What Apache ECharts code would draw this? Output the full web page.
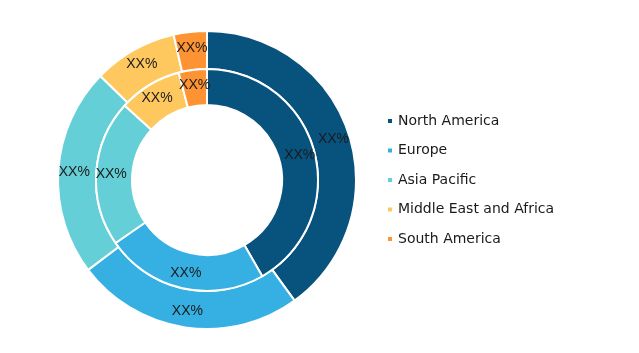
<!DOCTYPE html>
<html>
    <head>
        <meta charset="UTF-8" />
        <script src="https://cdn.jsdelivr.net/npm/echarts@6/dist/echarts.min.js"></script>
    </head>
    <body style="margin:0">
        <div id="main" style="width: 639px; height: 353px"></div>
        <script type="text/javascript">
            var regions = ['North America', 'Europe', 'Asia Pacific', 'Middle East and Africa', 'South America'];
            var colors = ['#08527e', '#36b0e2', '#65cfd8', '#fec85f', '#fd9332'];
            // 外圈 / 内圈 (读图估计的份额)
            var outerShare = [40.0, 24.7, 22.6, 9.1, 3.6];
            var innerShare = [41.7, 23.7, 21.3, 9.2, 4.1];
            var labelText = 'XX%';

            var myChart = echarts.init(document.getElementById('main'));

            function ring(name, values, radius) {
                return {
                    name: name,
                    type: 'pie',
                    center: [207, 180],
                    radius: radius,
                    startAngle: 90,
                    clockwise: true,
                    silent: true,
                    itemStyle: { borderColor: '#fff', borderWidth: 2 },
                    label: {
                        position: 'inside',
                        formatter: labelText,
                        color: '#1a1a1a',
                        fontSize: 14,
                        fontFamily: 'Liberation Sans'
                    },
                    labelLine: { show: false },
                    data: regions.map(function (r, i) {
                        return { name: r, value: values[i] };
                    })
                };
            }

            var option = {
                color: colors,
                animation: false,
                legend: {
                    orient: 'vertical',
                    left: 381,
                    top: 109,
                    icon: 'rect',
                    itemWidth: 6,
                    itemHeight: 6,
                    itemGap: 15.5,
                    textStyle: { fontSize: 14, color: '#1a1a1a', fontFamily: 'DejaVu Sans' },
                    data: regions
                },
                series: [
                    ring('outer', outerShare, [111, 149]),
                    ring('inner', innerShare, [75, 111])
                ]
            };

            myChart.setOption(option);
        </script>
    </body>
</html>
